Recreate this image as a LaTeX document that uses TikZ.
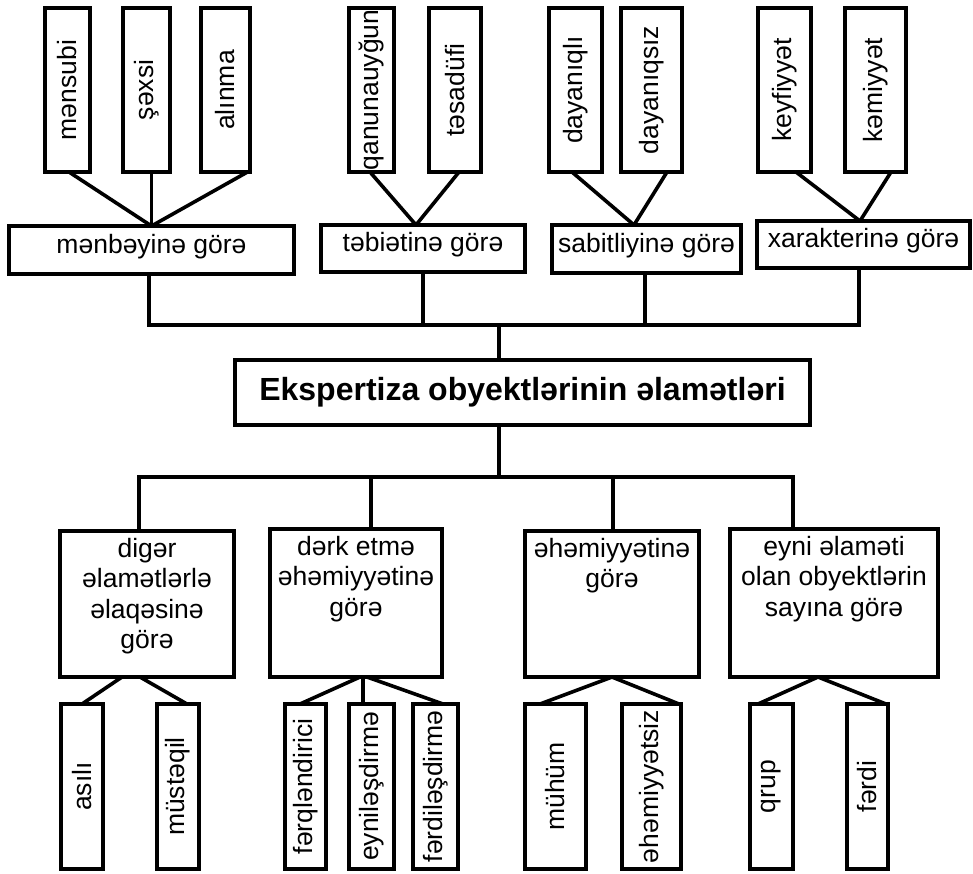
\documentclass[tikz,border=0pt]{standalone}
\usepackage{fontspec}
\setmainfont{Liberation Sans}
\usepackage{graphicx}
\begin{document}
\begin{tikzpicture}[x=1pt,y=-1pt,
  box/.style={draw, line width=4pt, inner sep=0pt, outer sep=0pt, font=\fontsize{26.5}{30.5}\selectfont},
  cat/.style={box, text height=18pt, text depth=12pt},
  link/.style={line width=3.6pt}]
\useasboundingbox (0,0) rectangle (973,873);
% top leaves
\node[box, minimum width=45pt, minimum height=164pt] (mensubi) at (67.5,90) {\rotatebox{90}{mənsubi}};
\node[box, minimum width=47pt, minimum height=164pt] (sexsi) at (146.5,90) {\rotatebox{90}{şəxsi}};
\node[box, minimum width=49pt, minimum height=164pt] (alinma) at (225.5,90) {\rotatebox{90}{alınma}};
\node[box, minimum width=45pt, minimum height=164pt] (qanun) at (371.5,90) {\rotatebox{90}{qanunauyğun}};
\node[box, minimum width=52pt, minimum height=164pt] (tesad) at (455,90) {\rotatebox{90}{təsadüfi}};
\node[box, minimum width=53pt, minimum height=164pt] (dayq) at (575.5,90) {\rotatebox{90}{dayanıqlı}};
\node[box, minimum width=61pt, minimum height=164pt] (dayqs) at (651.5,90) {\rotatebox{90}{dayanıqsız}};
\node[box, minimum width=53pt, minimum height=164pt] (keyf) at (784.5,90) {\rotatebox{90}{keyfiyyət}};
\node[box, minimum width=61pt, minimum height=164pt] (kemi) at (875.5,90) {\rotatebox{90}{kəmiyyət}};
% top categories
\node[cat, minimum width=285pt, minimum height=48pt] (menbe) at (151.5,250) {mənbəyinə görə};
\node[cat, minimum width=204pt, minimum height=47pt] (tebi) at (423,248.5) {təbiətinə görə};
\node[cat, minimum width=189pt, minimum height=48pt] (sabit) at (646.5,249) {sabitliyinə görə};
\node[cat, minimum width=213pt, minimum height=47pt] (xar) at (863.5,244.5) {xarakterinə görə};
% main
\node[box, font=\fontsize{32}{38}\selectfont\bfseries, minimum width=575pt, minimum height=65pt] (main) at (522.5,392.5) {Ekspertiza obyektlərinin əlamətləri};
% bottom categories
\node[box, minimum width=174pt, minimum height=146pt] (diger) at (147,604)
  {\parbox[c][146pt][t]{174pt}{\centering\rule{0pt}{26pt}digər\\əlamətlərlə\\əlaqəsinə\\görə}};
\node[box, minimum width=172pt, minimum height=148pt] (derk) at (356,603)
  {\parbox[c][148pt][t]{172pt}{\centering\rule{0pt}{26pt}dərk etmə\\əhəmiyyətinə\\görə}};
\node[box, minimum width=174pt, minimum height=146pt] (ehem) at (612,604)
  {\parbox[c][146pt][t]{174pt}{\centering\rule{0pt}{26pt}əhəmiyyətinə\\görə}};
\node[box, minimum width=208pt, minimum height=148pt] (eyni) at (834,603)
  {\parbox[c][148pt][t]{208pt}{\centering\rule{0pt}{26pt}eyni əlaməti\\olan obyektlərin\\sayına görə}};
% bottom leaves
\node[box, minimum width=42pt, minimum height=165pt] (asili) at (82,786.5) {\rotatebox{90}{asılı}};
\node[box, minimum width=42pt, minimum height=165pt] (mustq) at (178,786.5) {\rotatebox{90}{müstəqil}};
\node[box, minimum width=41pt, minimum height=165pt] (ferq) at (305.5,786.5) {\rotatebox{90}{fərqləndirici}};
\node[box, minimum width=45pt, minimum height=165pt] (eynl) at (371.5,786.5) {\rotatebox{90}{eyniləşdirmə}};
\node[box, minimum width=45pt, minimum height=165pt] (ferd) at (435.5,786.5) {\rotatebox{90}{fərdiləşdirmə}};
\node[box, minimum width=61pt, minimum height=165pt] (muhum) at (555.5,786.5) {\rotatebox{90}{mühüm}};
\node[box, minimum width=59pt, minimum height=165pt] (ehsiz) at (651.5,786.5) {\rotatebox{90}{əhəmiyyətsiz}};
\node[box, minimum width=43pt, minimum height=165pt] (qrup) at (771.5,786.5) {\rotatebox{90}{qrup}};
\node[box, minimum width=41pt, minimum height=165pt] (ferdi) at (867.5,786.5) {\rotatebox{90}{fərdi}};
% top connectors
\draw[link] ([xshift=1.5pt]mensubi.south) -- (menbe.north);
\draw[link] (sexsi.south -| menbe.north) -- (menbe.north);
\draw[link] ([xshift=22pt]alinma.south) -- (menbe.north);
\draw[link] ([xshift=-1.5pt]qanun.south) -- ([xshift=-7pt]tebi.north);
\draw[link] ([xshift=4pt]tesad.south) -- ([xshift=-7pt]tebi.north);
\draw[link] ([xshift=-3.5pt]dayq.south) -- ([xshift=-12.5pt]sabit.north);
\draw[link] ([xshift=15.5pt]dayqs.south) -- ([xshift=-12.5pt]sabit.north);
\draw[link] ([xshift=11.5pt]keyf.south) -- ([xshift=-3.5pt]xar.north);
\draw[link] ([xshift=15.5pt]kemi.south) -- ([xshift=-3.5pt]xar.north);
% upper bus
\coordinate (tj) at (499,325);
\draw[link] ([xshift=-23.5pt]main.north) -- (tj);
\draw[link] ([xshift=-2.5pt]menbe.south) |- (tj) -| ([xshift=-4.5pt]xar.south);
\draw[link] (tebi.south) -- (tebi.south |- tj);
\draw[link] ([xshift=-1.5pt]sabit.south) -- ([xshift=-1.5pt]sabit.south |- tj);
% lower bus
\coordinate (bj) at (499,477);
\draw[link] ([xshift=-23.5pt]main.south) -- (bj);
\draw[link] ([xshift=-8pt]diger.north) |- (bj) -| ([xshift=-41pt]eyni.north);
\draw[link] ([xshift=15pt]derk.north) -- ([xshift=15pt]derk.north |- bj);
\draw[link] ([xshift=1pt]ehem.north) -- ([xshift=1pt]ehem.north |- bj);
% bottom connectors
\draw[link] ([xshift=-25pt]diger.south) -- (asili.north);
\draw[link] ([xshift=-7pt]diger.south) -- ([xshift=9pt]mustq.north);
\draw[link] ([xshift=4pt]derk.south) -- ([xshift=-5.5pt]ferq.north);
\draw[link] ([xshift=7pt]derk.south) -- ([xshift=-8.5pt]eynl.north);
\draw[link] ([xshift=11pt]derk.south) -- ([xshift=7.5pt]ferd.north);
\draw[link] (ehem.south) -- ([xshift=-15.5pt]muhum.north);
\draw[link] (ehem.south) -- ([xshift=-2pt]ehsiz.north east);
\draw[link] ([xshift=-16pt]eyni.south) -- ([xshift=-13.5pt]qrup.north);
\draw[link] ([xshift=-16pt]eyni.south) -- ([xshift=-2pt]ferdi.north east);
\end{tikzpicture}
\end{document}
